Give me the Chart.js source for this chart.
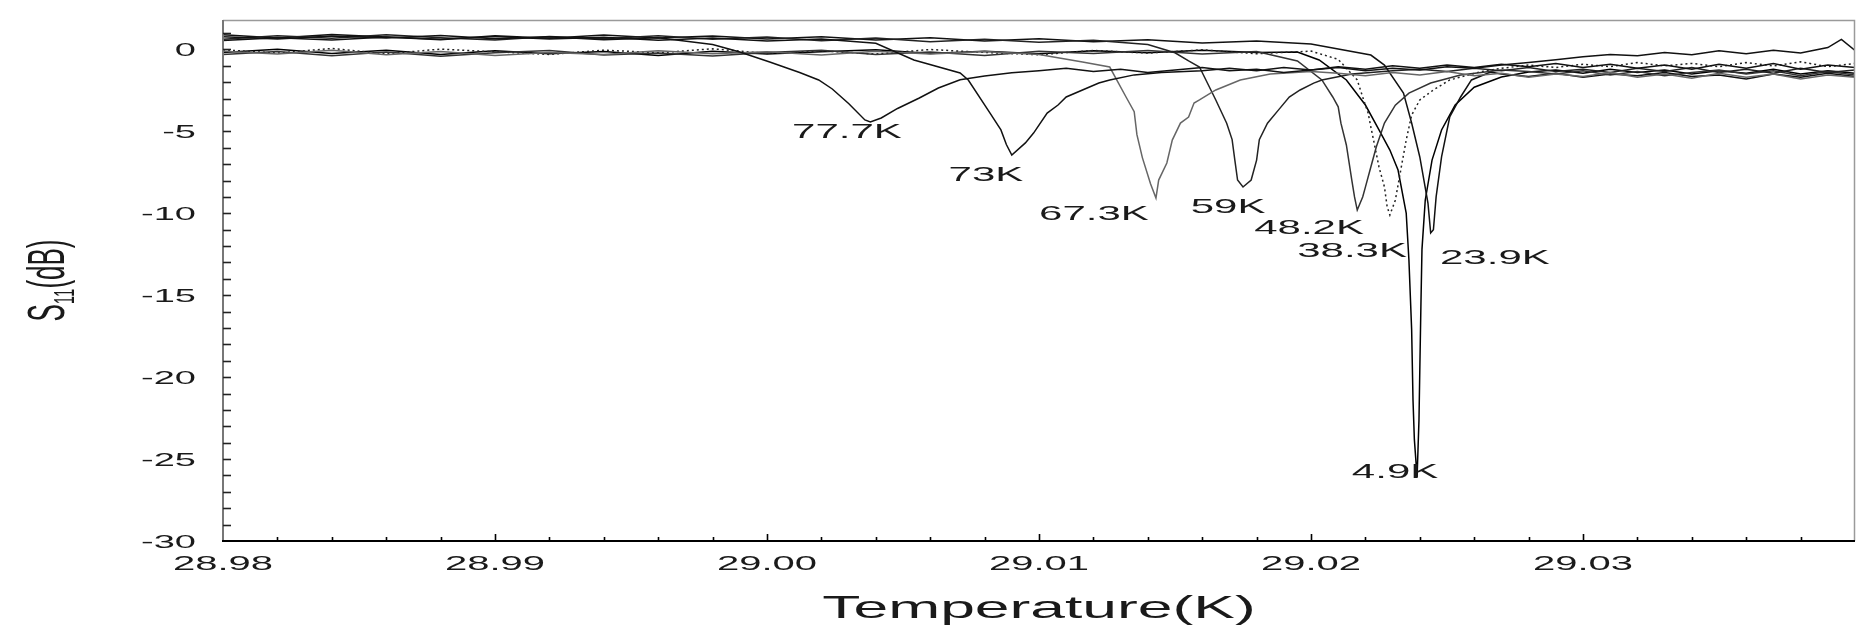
<!DOCTYPE html>
<html lang="en">
<head>
<meta charset="UTF-8">
<title>S11 vs Temperature</title>
<script src="https://cdn.jsdelivr.net/npm/chart.js"></script>
<style>
    body { margin: 0; background: #fff; overflow: hidden; }
    #wrap { width: 1857px; height: 626px; }
</style>
</head>
<body>
<div id="wrap"><canvas id="s11Chart" width="1857" height="626"></canvas></div>
<script>
// curves, [x, S11 in dB]
const k777 = [[28.980,0.78],[28.982,0.64],[28.984,0.82],[28.986,0.70],[28.988,0.86],[28.990,0.66],[28.992,0.78],[28.994,0.60],[28.996,0.72],[28.998,0.30],[28.999,-0.15],
    [29.0001,-0.76],[29.0012,-1.40],[29.0019,-1.86],[29.0024,-2.41],[29.0030,-3.30],[29.0036,-4.30],[29.0038,-4.43],[29.0042,-4.18],[29.0048,-3.60],[29.0056,-2.96],[29.0063,-2.35],[29.0071,-1.85],[29.0080,-1.62],[29.0090,-1.42],[29.0100,-1.30],
    [29.011,-1.15],[29.012,-1.35],[29.013,-1.20],[29.014,-1.40],[29.015,-1.25],[29.016,-1.10],[29.017,-1.30],[29.018,-1.20],[29.019,-1.40],[29.020,-1.25],[29.021,-1.10],[29.022,-1.30],[29.023,-1.15],[29.024,-1.25],[29.025,-1.05],[29.026,-1.15],[29.027,-0.95],[29.028,-0.80],[29.029,-0.62],[29.030,-0.45],[29.031,-0.30],[29.032,-0.38],[29.033,-0.18],[29.034,-0.32],[29.035,-0.08],[29.036,-0.26],[29.037,-0.04],[29.038,-0.22],[29.039,0.12],[29.0395,0.62],[29.040,-0.06]];

const k73 = [[28.980,0.55],[28.982,0.72],[28.984,0.58],[28.986,0.76],[28.988,0.62],[28.990,0.80],[28.992,0.64],[28.994,0.74],[28.996,0.56],[28.998,0.70],[29.000,0.52],[29.002,0.64],[29.004,0.38],
    [29.0054,-0.64],[29.0071,-1.43],[29.0074,-1.86],[29.0082,-3.88],[29.0086,-4.91],[29.0088,-5.80],[29.0090,-6.44],[29.0095,-5.70],[29.0098,-5.10],[29.0103,-3.88],[29.0107,-3.39],[29.0110,-2.90],[29.0122,-2.05],[29.0126,-1.86],[29.0135,-1.55],[29.0145,-1.40],
    [29.016,-1.30],[29.017,-1.15],[29.018,-1.30],[29.019,-1.10],[29.020,-1.25],[29.021,-1.05],[29.022,-1.20],[29.023,-1.00],[29.024,-1.15],[29.025,-0.95],[29.026,-1.10],[29.027,-0.90],[29.028,-1.05],[29.029,-0.85],[29.030,-1.10],[29.031,-0.90],[29.032,-1.15],[29.033,-0.95],[29.034,-1.20],[29.035,-0.90],[29.036,-1.15],[29.037,-0.85],[29.038,-1.20],[29.039,-0.95],[29.040,-1.10]];

const k673 = [[28.980,-0.10],[28.982,-0.28],[28.984,-0.05],[28.986,-0.32],[28.988,-0.12],[28.990,-0.36],[28.992,-0.18],[28.994,-0.30],[28.996,-0.08],[28.998,-0.26],[29.000,-0.14],[29.002,-0.34],[29.004,-0.10],[29.006,-0.28],[29.008,-0.12],[29.010,-0.30],
    [29.0116,-0.76],[29.0126,-1.07],[29.0132,-2.90],[29.0135,-3.80],[29.0136,-5.20],[29.0138,-6.60],[29.0141,-8.20],[29.0143,-9.07],[29.0144,-7.97],[29.0147,-6.93],[29.0149,-5.53],[29.0152,-4.49],[29.0155,-4.12],[29.0157,-3.27],[29.0159,-3.08],[29.0165,-2.47],[29.0174,-1.86],[29.0185,-1.50],
    [29.020,-1.35],[29.021,-1.45],[29.022,-1.60],[29.023,-1.40],[29.024,-1.55],[29.025,-1.35],[29.026,-1.60],[29.027,-1.45],[29.028,-1.70],[29.029,-1.50],[29.030,-1.65],[29.031,-1.40],[29.032,-1.70],[29.033,-1.50],[29.034,-1.75],[29.035,-1.45],[29.036,-1.70],[29.037,-1.50],[29.038,-1.80],[29.039,-1.55],[29.040,-1.70]];

const k59 = [[28.980,0.62],[28.982,0.84],[28.984,0.68],[28.986,0.90],[28.988,0.72],[28.990,0.58],[28.992,0.80],[28.994,0.66],[28.996,0.84],[28.998,0.62],[29.000,0.76],[29.002,0.54],[29.004,0.70],[29.006,0.48],[29.008,0.62],[29.010,0.44],[29.012,0.56],[29.014,0.30],
    [29.0150,-0.20],[29.0155,-0.70],[29.0159,-1.07],[29.0165,-3.08],[29.0169,-4.50],[29.0171,-5.50],[29.0172,-6.75],[29.0173,-7.97],[29.0175,-8.39],[29.0178,-7.97],[29.0180,-6.75],[29.0181,-5.50],[29.0184,-4.50],[29.0188,-3.70],[29.0192,-2.90],[29.0196,-2.47],[29.0201,-2.05],[29.0204,-1.86],[29.0215,-1.50],
    [29.023,-1.30],[29.024,-1.20],[29.025,-1.35],[29.026,-1.15],[29.027,-1.30],[29.028,-1.10],[29.029,-1.35],[29.030,-1.20],[29.031,-1.40],[29.032,-1.15],[29.033,-1.35],[29.034,-1.10],[29.035,-1.40],[29.036,-1.20],[29.037,-1.45],[29.038,-1.15],[29.039,-1.40],[29.040,-1.25]];

const k482 = [[28.980,-0.30],[28.982,-0.12],[28.984,-0.38],[28.986,-0.16],[28.988,-0.42],[28.990,-0.20],[28.992,-0.06],[28.994,-0.34],[28.996,-0.22],[28.998,-0.40],[29.000,-0.18],[29.002,-0.04],[29.004,-0.30],[29.006,-0.16],[29.008,-0.36],[29.010,-0.10],[29.012,-0.24],[29.014,-0.06],[29.016,-0.28],[29.018,-0.12],
    [29.0195,-0.70],[29.0204,-1.86],[29.0208,-2.90],[29.0210,-3.50],[29.0211,-4.50],[29.0213,-5.83],[29.0215,-7.97],[29.0216,-9.00],[29.0217,-9.80],[29.0219,-9.00],[29.0220,-8.40],[29.0222,-7.17],[29.0224,-5.95],[29.0227,-4.49],[29.0231,-3.40],[29.0236,-2.66],[29.0244,-2.05],[29.0255,-1.56],[29.0270,-1.25],
    [29.028,-1.35],[29.029,-1.50],[29.030,-1.30],[29.031,-1.55],[29.032,-1.35],[29.033,-1.60],[29.034,-1.40],[29.035,-1.25],[29.036,-1.50],[29.037,-1.30],[29.038,-1.60],[29.039,-1.35],[29.040,-1.55]];

const k383 = [[28.980,-0.02],[28.982,-0.22],[28.984,0.06],[28.986,-0.26],[28.988,0.02],[28.990,-0.14],[28.992,-0.30],[28.994,-0.04],[28.996,-0.20],[28.998,0.04],[29.000,-0.24],[29.002,-0.08],[29.004,-0.28],[29.006,0.00],[29.008,-0.18],[29.010,-0.32],[29.012,-0.06],[29.014,-0.22],[29.016,-0.02],[29.018,-0.26],[29.020,-0.10],
    [29.0210,-0.60],[29.0217,-1.86],[29.0219,-2.90],[29.0221,-3.88],[29.0222,-4.73],[29.0223,-5.53],[29.0225,-7.17],[29.0227,-8.39],[29.0228,-9.60],[29.0229,-10.10],[29.0231,-9.20],[29.0233,-7.35],[29.0235,-5.53],[29.0237,-4.00],[29.0240,-3.08],[29.0245,-2.47],[29.0251,-1.86],[29.0262,-1.37],
    [29.027,-1.15],[29.028,-0.95],[29.029,-1.10],[29.030,-0.90],[29.031,-1.05],[29.032,-0.80],[29.033,-1.00],[29.034,-0.85],[29.035,-1.05],[29.036,-0.80],[29.037,-1.00],[29.038,-0.75],[29.039,-1.05],[29.040,-0.85]];

const k239 = [[28.980,0.90],[28.982,0.70],[28.984,0.92],[28.986,0.76],[28.988,0.60],[28.990,0.84],[28.992,0.68],[28.994,0.88],[28.996,0.70],[28.998,0.82],[29.000,0.64],[29.002,0.78],[29.004,0.58],[29.006,0.72],[29.008,0.52],[29.010,0.66],[29.012,0.48],[29.014,0.60],[29.016,0.40],[29.018,0.52],[29.020,0.34],
    [29.0222,-0.34],[29.0227,-0.95],[29.0234,-2.66],[29.0237,-4.49],[29.0240,-6.56],[29.0243,-9.37],[29.0244,-11.20],[29.0245,-11.00],[29.0246,-9.00],[29.0248,-6.56],[29.0251,-4.12],[29.0255,-2.90],[29.0259,-1.86],[29.0266,-1.37],
    [29.027,-1.50],[29.028,-1.65],[29.029,-1.45],[29.030,-1.70],[29.031,-1.50],[29.032,-1.60],[29.033,-1.40],[29.034,-1.65],[29.035,-1.55],[29.036,-1.80],[29.037,-1.50],[29.038,-1.70],[29.039,-1.45],[29.040,-1.65]];

const k49 = [[28.980,-0.18],[28.982,0.02],[28.984,-0.24],[28.986,-0.04],[28.988,-0.30],[28.990,-0.08],[28.992,-0.26],[28.994,-0.12],[28.996,-0.36],[28.998,-0.10],[29.000,-0.28],[29.002,-0.14],[29.004,-0.02],[29.006,-0.24],[29.008,-0.10],[29.010,-0.26],[29.012,-0.08],[29.014,-0.20],[29.016,-0.04],[29.018,-0.18],[29.0195,-0.15],
    [29.0203,-0.64],[29.0213,-1.86],[29.0220,-3.39],[29.0225,-4.91],[29.0229,-6.14],[29.0232,-7.36],[29.0235,-9.98],[29.0236,-12.85],[29.0237,-17.10],[29.02375,-21.40],[29.0238,-23.80],[29.0239,-26.10],[29.02397,-22.60],[29.0240,-19.60],[29.02404,-15.70],[29.02408,-12.20],[29.0242,-9.20],[29.02445,-6.75],[29.0248,-4.91],[29.0253,-3.39],[29.0260,-2.30],[29.0270,-1.68],[29.0280,-1.37],
    [29.029,-1.25],[29.030,-1.45],[29.031,-1.20],[29.032,-1.40],[29.033,-1.25],[29.034,-1.50],[29.035,-1.30],[29.036,-1.45],[29.037,-1.20],[29.038,-1.50],[29.039,-1.30],[29.040,-1.45]];

const seriesData = [k777, k73, k673, k59, k482, k383, k239, k49];
const seriesNames = ['77.7K', '73K', '67.3K', '59K', '48.2K', '38.3K', '23.9K', '4.9K'];
// where each temperature label sits (centre of text, data units)
const peakLabelX = [29.00294, 29.00805, 29.01202, 29.01695, 29.01993, 29.02151, 29.02676, 29.02309];
const peakLabelY = [-4.91, -7.51, -9.92, -9.49, -10.78, -12.18, -12.61, -25.67];

const xTickValues = [28.98, 28.99, 29.00, 29.01, 29.02, 29.03];
const xTickLabels = ['28.98', '28.99', '29.00', '29.01', '29.02', '29.03'];
const yTickValues = [0, -5, -10, -15, -20, -25, -30];
const yTickLabels = ['0', '-5', '-10', '-15', '-20', '-25', '-30'];

// line styles
const seriesColors = ['#111', '#111', '#666', '#222', '#333', '#222', '#111', '#000'];
const seriesDash = [[], [], [], [], [], [2, 3], [], []];

const FONT = '"Liberation Sans", Arial, sans-serif';
const STRETCH = 2.0;   // the scanned figure is stretched sideways

function stretchedText(ctx, text, x, y, align, sx) {
    ctx.save();
    ctx.translate(x, y);
    ctx.scale(sx, 1);
    ctx.textAlign = align;
    ctx.fillText(text, 0, 0);
    ctx.restore();
}

// axes frame, inward ticks, labels and titles
const paperAxes = {
    id: 'paperAxes',
    afterDatasetsDraw(chart) {
        const { ctx, chartArea: a, scales: { x, y } } = chart;
        ctx.save();

        // top / right border
        ctx.lineWidth = 1.5;
        ctx.strokeStyle = '#9a9a9a';
        ctx.beginPath();
        ctx.moveTo(a.left, a.top + 0.5);
        ctx.lineTo(a.right - 0.5, a.top + 0.5);
        ctx.lineTo(a.right - 0.5, a.bottom);
        ctx.stroke();

        // left axis
        ctx.lineWidth = 2;
        ctx.strokeStyle = '#777';
        ctx.beginPath();
        ctx.moveTo(a.left, a.top);
        ctx.lineTo(a.left, a.bottom);
        ctx.stroke();

        // bottom axis
        ctx.strokeStyle = '#000';
        ctx.beginPath();
        ctx.moveTo(a.left - 1, a.bottom);
        ctx.lineTo(a.right, a.bottom);
        ctx.stroke();

        // y ticks every 1 dB
        ctx.lineWidth = 1.6;
        ctx.strokeStyle = '#222';
        for (let v = -29; v <= 1; v++) {
            const py = Math.round(y.getPixelForValue(v)) + 0.5;
            ctx.beginPath();
            ctx.moveTo(a.left, py);
            ctx.lineTo(a.left + 8, py);
            ctx.stroke();
        }

        // x ticks every 0.002, taller at the labelled ones
        ctx.strokeStyle = '#000';
        for (let i = 1; i < 30; i++) {
            const v = 28.98 + i * 0.002;
            const px = Math.round(x.getPixelForValue(v)) + 0.5;
            const len = (i % 5 === 0) ? 7 : 4;
            ctx.beginPath();
            ctx.moveTo(px, a.bottom);
            ctx.lineTo(px, a.bottom - len);
            ctx.stroke();
        }

        ctx.fillStyle = '#1a1a1a';

        // y tick labels
        ctx.font = '19px ' + FONT;
        ctx.textBaseline = 'alphabetic';
        yTickValues.forEach((v, i) => {
            const py = y.getPixelForValue(v);
            stretchedText(ctx, yTickLabels[i], a.left - 27, py + 7, 'right', STRETCH);
        });

        // x tick labels
        ctx.font = '20px ' + FONT;
        xTickValues.forEach((v, i) => {
            const px = x.getPixelForValue(v);
            stretchedText(ctx, xTickLabels[i], px, a.bottom + 29, 'center', STRETCH);
        });

        // temperature labels at the dips
        ctx.font = '21px ' + FONT;
        seriesNames.forEach((name, i) => {
            const px = x.getPixelForValue(peakLabelX[i]);
            const py = y.getPixelForValue(peakLabelY[i]);
            stretchedText(ctx, name, px, py + 8, 'center', STRETCH);
        });

        // x title
        ctx.font = '32px ' + FONT;
        stretchedText(ctx, 'Temperature(K)', (a.left + a.right) / 2, 618, 'center', 1.95);

        // y title S11(dB), rotated, with subscript
        ctx.save();
        ctx.translate(46, (a.top + a.bottom) / 2);
        ctx.scale(STRETCH, 1);
        ctx.rotate(-Math.PI / 2);
        ctx.textAlign = 'left';
        ctx.textBaseline = 'alphabetic';
        const big = '26px ' + FONT, small = '15px ' + FONT;
        ctx.font = big;
        const wS = ctx.measureText('S').width;
        const wDB = ctx.measureText('(dB)').width;
        ctx.font = small;
        const w11 = ctx.measureText('11').width;
        let tx = -(wS + w11 + wDB) / 2;
        ctx.font = big;
        ctx.fillText('S', tx, 9);
        tx += wS;
        ctx.font = small;
        ctx.fillText('11', tx, 14);
        tx += w11;
        ctx.font = big;
        ctx.fillText('(dB)', tx, 9);
        ctx.restore();

        ctx.restore();
    }
};

const datasets = seriesData.map((pts, i) => ({
    label: seriesNames[i],
    data: pts.map(p => ({ x: p[0], y: p[1] })),
    borderColor: seriesColors[i],
    borderWidth: 1.5,
    borderDash: seriesDash[i],
    pointRadius: 0,
    tension: 0,
    fill: false
}));

new Chart(document.getElementById('s11Chart').getContext('2d'), {
    type: 'line',
    data: { datasets: datasets },
    options: {
        responsive: false,
        animation: false,
        layout: { padding: { top: 20, right: 2, left: 0, bottom: 0 } },
        plugins: { legend: { display: false }, tooltip: { enabled: false } },
        scales: {
            x: {
                type: 'linear',
                min: 28.98,
                max: 29.04,
                grid: { display: false },
                border: { display: false },
                ticks: { display: false },
                afterFit(scale) { scale.height = 85; }
            },
            y: {
                type: 'linear',
                min: -30,
                max: 1.8,
                grid: { display: false },
                border: { display: false },
                ticks: { display: false },
                afterFit(scale) { scale.width = 223; }
            }
        }
    },
    plugins: [paperAxes]
});
</script>
</body>
</html>
